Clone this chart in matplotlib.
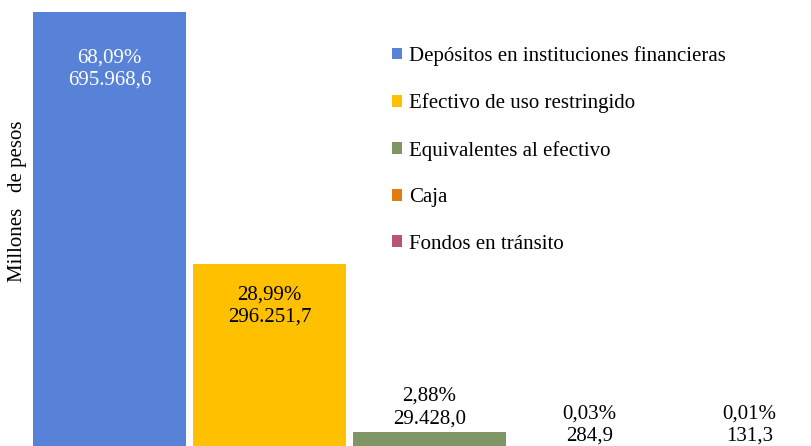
import matplotlib
matplotlib.use("Agg")
import matplotlib.pyplot as plt
from matplotlib.patches import Patch

# Composición del efectivo (millones de pesos)
categories = ["Depósitos en instituciones financieras", "Efectivo de uso restringido",
              "Equivalentes al efectivo", "Caja", "Fondos en tránsito"]
values = [695968.6, 296251.7, 29428.0, 284.9, 131.3]
percents = ["68,09%", "28,99%", "2,88%", "0,03%", "0,01%"]
value_labels = ["695.968,6", "296.251,7", "29.428,0", "284,9", "131,3"]
colors = ["#5882D8", "#FFC000", "#7F9566", "#E07D10", "#B8546F"]

plt.rcParams['font.family'] = ['Liberation Serif', 'DejaVu Serif']

W, H = 811, 446
fig = plt.figure(figsize=(W / 100, H / 100), dpi=100)
# axes slightly larger than the figure: the original picture is cropped
left_px, right_px, base_px, top_px = 29.5, 829.5, 451, 12
ax = fig.add_axes([left_px / W, (H - base_px) / H, (right_px - left_px) / W, (base_px - top_px) / H])

x = list(range(len(values)))
ax.bar(x, values, width=0.955, color=colors)
ax.set_xlim(-0.5, 4.5)
ax.set_ylim(0, values[0])
ax.axis("off")

# label offsets (pixels from bar top to the centre of the two-line label)
offsets = [-57, -42, 25, 26, 26]
text_colors = ["white", "black", "black", "black", "black"]
for i in x:
    ax.annotate(percents[i] + "\n" + value_labels[i], (i, values[i]),
                xytext=(0, offsets[i]), textcoords="offset pixels",
                ha="center", va="center", fontsize=15, color=text_colors[i],
                linespacing=1.25)

handles = [Patch(facecolor=c, edgecolor="none") for c in colors]
fig.legend(handles, categories, loc="upper left", bbox_to_anchor=(392 / W, 1 - 46 / H),
           frameon=False, fontsize=15, handlelength=0.5, handleheight=0.5,
           handletextpad=0.3, labelspacing=1.32, borderpad=0, borderaxespad=0)

fig.text(18 / W, 1 - 201 / H, "Millones   de pesos", rotation=90, ha="center", va="center",
         fontsize=15)

fig.savefig("out.png", dpi=100)
